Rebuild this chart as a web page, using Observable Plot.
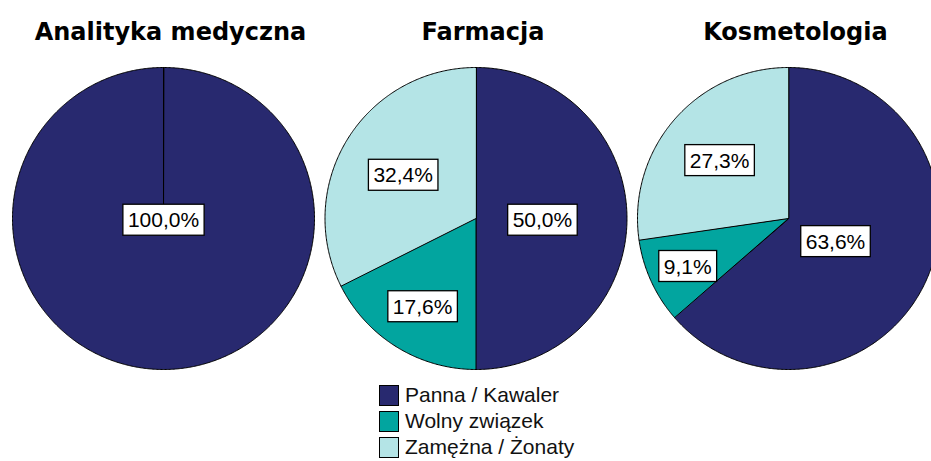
<!DOCTYPE html>
<html>
<head>
<meta charset="utf-8">
<script src="https://cdn.jsdelivr.net/npm/d3@7"></script>
<script src="https://cdn.jsdelivr.net/npm/@observablehq/plot@0.6"></script>
<style>
  html, body { margin: 0; padding: 0; background: #fff; overflow: hidden; }
  #chart svg { display: block; }
  .legend { margin-left: 379px; font-family: "Liberation Sans", Arial, sans-serif; font-size: 21px; color: #111; }
  .legend .row { display: flex; align-items: center; height: 26px; }
  .legend .sw { width: 18px; height: 19px; border: 1px solid #000; margin-right: 6px; box-sizing: content-box; }
</style>
</head>
<body>
<div id="chart"></div>
<div class="legend" id="legend"></div>
<script>
// ---- data ----
const programs = ["Analityka medyczna", "Farmacja", "Kosmetologia"];
const categories = ["Panna / Kawaler", "Wolny związek", "Zamężna / Żonaty"];
const analityka = [100.0, 0, 0];
const farmacja = [50.0, 17.6, 32.4];
const kosmetologia = [63.6, 9.1, 27.3];
const colors = ["#28296f", "#02a59f", "#b4e4e6"];

// ---- layout constants ----
const gap = 312.5 / 151;       // distance between pie centres, in pie radii
const titleShift = 0.046;      // titles sit slightly right of pie centre

const seriesByProgram = [analityka, farmacja, kosmetologia];
const polys = [];
const labels = [];
seriesByProgram.forEach((vals, i) => {
  const cx = i * gap;
  let cum = 0;
  vals.forEach((v, j) => {
    if (v <= 0) return;
    const a0 = cum / 100 * 2 * Math.PI;
    const a1 = (cum + v) / 100 * 2 * Math.PI;
    const key = programs[i] + "|" + categories[j];
    polys.push({key, cat: categories[j], x: cx, y: 0});
    const n = Math.max(2, Math.ceil((a1 - a0) / (Math.PI / 360)));
    for (let k = 0; k <= n; k++) {
      const t = a0 + (a1 - a0) * k / n;
      polys.push({key, cat: categories[j], x: cx + Math.sin(t), y: Math.cos(t)});
    }
    const mid = (a0 + a1) / 2;
    const share = v / 100;
    const rr = share >= 0.999 ? 0 : 0.8 - 0.72 * share;
    labels.push({x: cx + rr * Math.sin(mid), y: rr * Math.cos(mid),
                 text: v.toFixed(1).replace(".", ",") + "%"});
    cum += v;
  });
});

const chart = Plot.plot({
  width: 931,
  height: 382,
  margin: 0,
  style: {fontFamily: "'Liberation Sans', Arial, sans-serif", background: "#fff", overflow: "visible"},
  x: {axis: null, domain: [-1, 2 * gap + 1], range: [12, 939]},
  y: {axis: null, domain: [-1, 1], range: [369, 67]},
  color: {domain: categories, range: colors},
  marks: [
    Plot.line(polys, {x: "x", y: "y", z: "key", fill: "cat", stroke: "#000", strokeWidth: 1, curve: "linear-closed"}),
    Plot.text(labels, {x: "x", y: "y", dy: 2, text: "text", fontSize: 21, fill: "#000"}),
    Plot.text(programs, {x: (d, i) => i * gap + titleShift, y: () => 1, dy: -35, text: d => d,
      fontSize: 24, fontWeight: "bold", fontFamily: "'DejaVu Sans', Verdana, sans-serif", fill: "#000"})
  ]
});
document.getElementById("chart").appendChild(chart);

// white boxes behind percentage labels
const svgNS = "http://www.w3.org/2000/svg";
Array.from(chart.querySelectorAll("text"))
  .filter(t => /%$/.test(t.textContent.trim()))
  .forEach(t => {
    const b = t.getBBox();
    const r = document.createElementNS(svgNS, "rect");
    const padX = 5, padY = 5;
    r.setAttribute("x", b.x - padX);
    r.setAttribute("y", b.y - padY + 1);
    r.setAttribute("width", b.width + 2 * padX);
    r.setAttribute("height", b.height + 2 * padY - 2);
    r.setAttribute("fill", "#fff");
    r.setAttribute("stroke", "#000");
    r.setAttribute("stroke-width", "1.3");
    const tr = t.getAttribute("transform");
    if (tr) r.setAttribute("transform", tr);
    t.parentNode.insertBefore(r, t);
  });

// legend
const legend = document.getElementById("legend");
categories.forEach((c, i) => {
  const row = document.createElement("div");
  row.className = "row";
  const sw = document.createElement("div");
  sw.className = "sw";
  sw.style.background = colors[i];
  const lab = document.createElement("span");
  lab.textContent = c;
  row.appendChild(sw);
  row.appendChild(lab);
  legend.appendChild(row);
});
</script>
</body>
</html>
